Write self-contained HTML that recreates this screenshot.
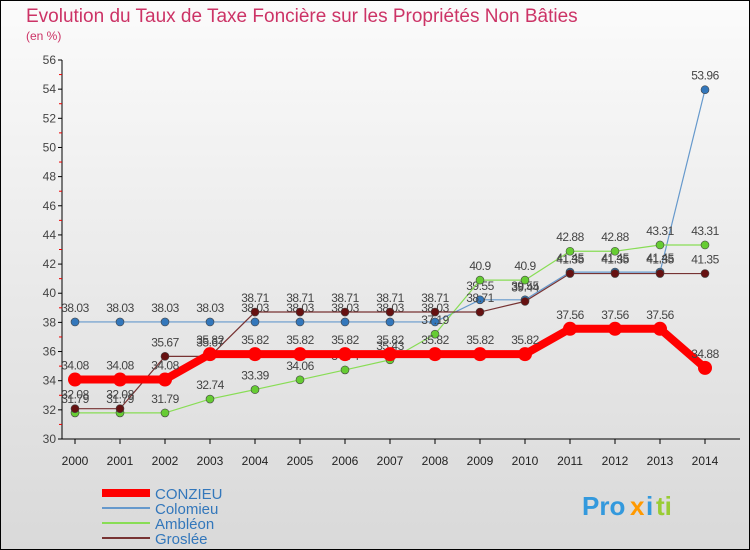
<!DOCTYPE html>
<html><head><meta charset="utf-8"><style>
body{margin:0;width:750px;height:550px;overflow:hidden;font-family:"Liberation Sans",sans-serif}
svg{display:block}
</style></head><body>
<svg id="c" width="750" height="550" xmlns="http://www.w3.org/2000/svg">
<defs><linearGradient id="bg" x1="0" y1="0" x2="0" y2="1"><stop offset="0" stop-color="#fbfbfb"/><stop offset="1" stop-color="#d9d9d9"/></linearGradient></defs>
<rect x="0.5" y="0.5" width="749" height="549" fill="url(#bg)" stroke="#000"/>
<text x="26" y="22" font-size="19" fill="#cc3366">Evolution du Taux de Taxe Foncière sur les Propriétés Non Bâties</text>
<text x="26" y="40" font-size="12" fill="#cc3366">(en %)</text>
<g id="axes"></g><g id="series"></g><g id="legend"></g>
<g font-size="26" font-weight="bold"><text x="582" y="515" fill="#3399dd">Pro</text><text x="630" y="515" fill="#ff9900">x</text><text x="646" y="515" fill="#3399dd">i</text><text x="656" y="515" fill="#99cc33">ti</text></g>
</svg>
<script>
const years=[2000,2001,2002,2003,2004,2005,2006,2007,2008,2009,2010,2011,2012,2013,2014];
const yTicks=[30,32,34,36,38,40,42,44,46,48,50,52,54,56];
const names=["CONZIEU","Colomieu","Ambléon","Groslée"];
const conzieu=[34.08,34.08,34.08,35.82,35.82,35.82,35.82,35.82,35.82,35.82,35.82,37.56,37.56,37.56,34.88];
const colomieu=[38.03,38.03,38.03,38.03,38.03,38.03,38.03,38.03,38.03,39.55,39.55,41.45,41.45,41.45,53.96];
const ambleon=[31.79,31.79,31.79,32.74,33.39,34.06,34.74,35.43,37.19,40.9,40.9,42.88,42.88,43.31,43.31];
const groslee=[32.08,32.08,35.67,35.67,38.71,38.71,38.71,38.71,38.71,38.71,39.44,41.35,41.35,41.35,41.35];
const NS="http://www.w3.org/2000/svg";
const X=i=>75+i*45, Y=v=>439-(v-30)*(379/26);
function mk(t,a,p){const e=document.createElementNS(NS,t);for(const k in a)e.setAttribute(k,a[k]);p.appendChild(e);return e;}
const ax=document.getElementById('axes');
let l=mk('line',{x1:62,y1:60,x2:62,y2:439,stroke:'#000'},ax);


l=mk('line',{x1:62,y1:439,x2:740,y2:439,stroke:'#000'},ax);


yTicks.forEach((v,i)=>{const y=Y(v);mk('line',{x1:58,y1:y,x2:62,y2:y,stroke:'#000'},ax);
 if(i<yTicks.length-1)mk('line',{x1:59,y1:Y(v+1),x2:62,y2:Y(v+1),stroke:'#e00'},ax);
 const t=mk('text',{x:56,y:y+4,'font-size':12,'text-anchor':'end',fill:'#444'},ax);t.textContent=v;
 
 });
years.forEach((yr,i)=>{mk('line',{x1:X(i),y1:439,x2:X(i),y2:444,stroke:'#000'},ax);
 const t=mk('text',{x:X(i),y:465,'font-size':12,'text-anchor':'middle',fill:'#222'},ax);t.textContent=yr;
 
 });
const sg=document.getElementById('series');
const defs=[[colomieu,'#6699cc','#3377bb',1.2,4,'colomieu'],[ambleon,'#88dd55','#66cc33',1.2,4,'ambleon'],[groslee,'#773333','#661111',1.2,4,'groslee'],[conzieu,'#ff0000','#ff0000',8,7,'conzieu']];
defs.forEach(([d,c,pc,w,r,n])=>{
 const g=mk('g',{},sg);
 
 
 const pl=mk('polyline',{points:d.map((v,i)=>X(i)+','+Y(v)).join(' '),fill:'none',stroke:c,'stroke-width':w},g);
 
 
 d.forEach((v,i)=>{const p=mk('circle',{cx:X(i),cy:Y(v),r:r,fill:pc,stroke:n=='conzieu'?'none':'#444','stroke-width':0.6},g);
  
  
  const t=mk('text',{x:X(i),y:Y(v)-10,'font-size':12,'text-anchor':'middle',fill:'#444','letter-spacing':'-0.5'},g);
  t.textContent=String(v).replace('.','.');
  
  });
});
const lg=document.getElementById('legend');
const lc=['#ff0000','#6699cc','#88dd55','#773333'],lw=[8,2,2,2];
names.forEach((n,i)=>{const y=493+i*15;
 const g=mk('g',{},lg);
 
 
 mk('line',{x1:102,y1:y,x2:150,y2:y,stroke:lc[i],'stroke-width':lw[i]},g);
 const t=mk('text',{x:155,y:y+6,'font-size':15,fill:'#3377bb'},g);t.textContent=n;});
</script>
</body></html>
